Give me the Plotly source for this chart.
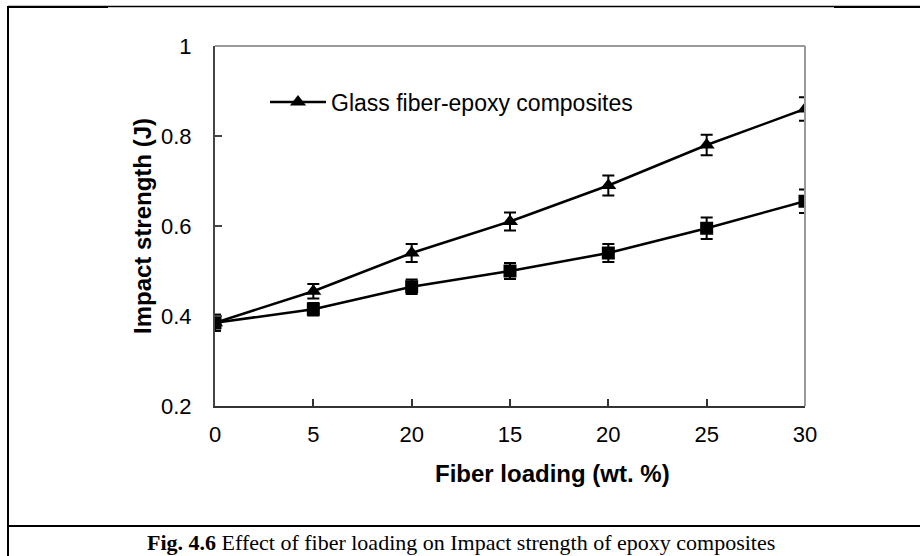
import plotly.graph_objects as go

x_labels = ["0", "5", "20", "15", "20", "25", "30"]
glass_vals = [0.385, 0.455, 0.54, 0.61, 0.69, 0.78, 0.86]
glass_err = [0.018, 0.016, 0.02, 0.02, 0.022, 0.023, 0.026]
other_vals = [0.385, 0.415, 0.465, 0.50, 0.54, 0.595, 0.655]
other_err = [0.018, 0.014, 0.016, 0.018, 0.02, 0.024, 0.026]
y_ticks = [0.2, 0.4, 0.6, 0.8, 1.0]
y_tick_text = ["0.2", "0.4", "0.6", "0.8", "1"]

xpos = list(range(len(x_labels)))

W, H = 920, 556
ML, MR, MT, MB = 215, 115, 46, 150
PW, PH = W - ML - MR, H - MT - MB

def px(x):
    return (x - ML) / PW

def py(y):
    return (H - MB - y) / PH

fig = go.Figure()
fig.add_trace(go.Scatter(
    x=xpos, y=other_vals, mode="lines+markers", showlegend=False,
    line=dict(color="black", width=2.5),
    marker=dict(symbol="square", size=13, color="black"),
    error_y=dict(type="data", array=other_err, color="black", thickness=2, width=6),
))
fig.add_trace(go.Scatter(
    x=xpos, y=glass_vals, mode="lines+markers", name="Glass fiber-epoxy composites",
    line=dict(color="black", width=2.5),
    marker=dict(symbol="triangle-up", size=14, color="black"),
    error_y=dict(type="data", array=glass_err, color="black", thickness=2, width=6),
))

fig.update_layout(
    width=W, height=H,
    margin=dict(l=ML, r=MR, t=MT, b=MB),
    paper_bgcolor="white", plot_bgcolor="white",
    font=dict(family="Liberation Sans, Arial", size=22, color="black"),
    showlegend=True,
    legend=dict(x=px(265), y=py(102), xanchor="left", yanchor="middle",
                bgcolor="rgba(0,0,0,0)", font=dict(size=23),
                itemwidth=56, tracegroupgap=0),
    xaxis=dict(
        range=[0, 6], tickvals=xpos, ticktext=x_labels,
        showline=True, linecolor="#333", linewidth=2, mirror=False,
        ticks="inside", ticklen=7, tickcolor="#333", tickwidth=1.5,
        ticklabelstandoff=8,
        showgrid=False, zeroline=False,
        tickfont=dict(size=22),
    ),
    yaxis=dict(
        range=[0.2, 1.0], tickvals=y_ticks, ticktext=y_tick_text,
        showline=True, linecolor="#444", linewidth=2,
        ticks="inside", ticklen=7, tickcolor="#444", tickwidth=1.5,
        ticklabelstandoff=17,
        showgrid=False, zeroline=False,
        tickfont=dict(size=22),
    ),
    shapes=[
        dict(type="line", xref="paper", yref="paper", x0=0, x1=1, y0=1, y1=1,
             line=dict(color="#999", width=2)),
        dict(type="line", xref="paper", yref="paper", x0=1, x1=1, y0=0, y1=1,
             line=dict(color="#999", width=2)),
        dict(type="line", xref="paper", yref="paper", x0=px(8), x1=px(8), y0=py(6), y1=py(556),
             line=dict(color="black", width=2)),
        dict(type="line", xref="paper", yref="paper", x0=px(8), x1=px(920), y0=py(6.5), y1=py(6.5),
             line=dict(color="black", width=1.3)),
        dict(type="line", xref="paper", yref="paper", x0=px(8), x1=px(108), y0=py(7), y1=py(7),
             line=dict(color="black", width=2.2)),
        dict(type="line", xref="paper", yref="paper", x0=px(834), x1=px(920), y0=py(7), y1=py(7),
             line=dict(color="black", width=2.2)),
        dict(type="line", xref="paper", yref="paper", x0=px(8), x1=px(920), y0=py(526), y1=py(526),
             line=dict(color="black", width=2)),
    ],
    annotations=[
        dict(xref="paper", yref="paper", x=px(433), y=py(473), xanchor="left", yanchor="middle",
             text="<b>Fiber loading (wt. %)</b>", showarrow=False, font=dict(size=24)),
        dict(xref="paper", yref="paper", x=px(142), y=py(226), xanchor="center", yanchor="middle",
             text="<b>Impact strength (J)</b>", textangle=-90, showarrow=False, font=dict(size=24)),
        dict(xref="paper", yref="paper", x=px(461), y=py(542), xanchor="center", yanchor="middle",
             text="<b>Fig. 4.6</b> Effect of fiber loading on Impact strength of epoxy composites",
             showarrow=False, font=dict(family="Liberation Serif, Times New Roman", size=22, color="black")),
    ],
)

fig.write_html("out.html", config={"displayModeBar": False},
               post_script="document.body.style.margin='0px';document.body.style.overflow='hidden';")
